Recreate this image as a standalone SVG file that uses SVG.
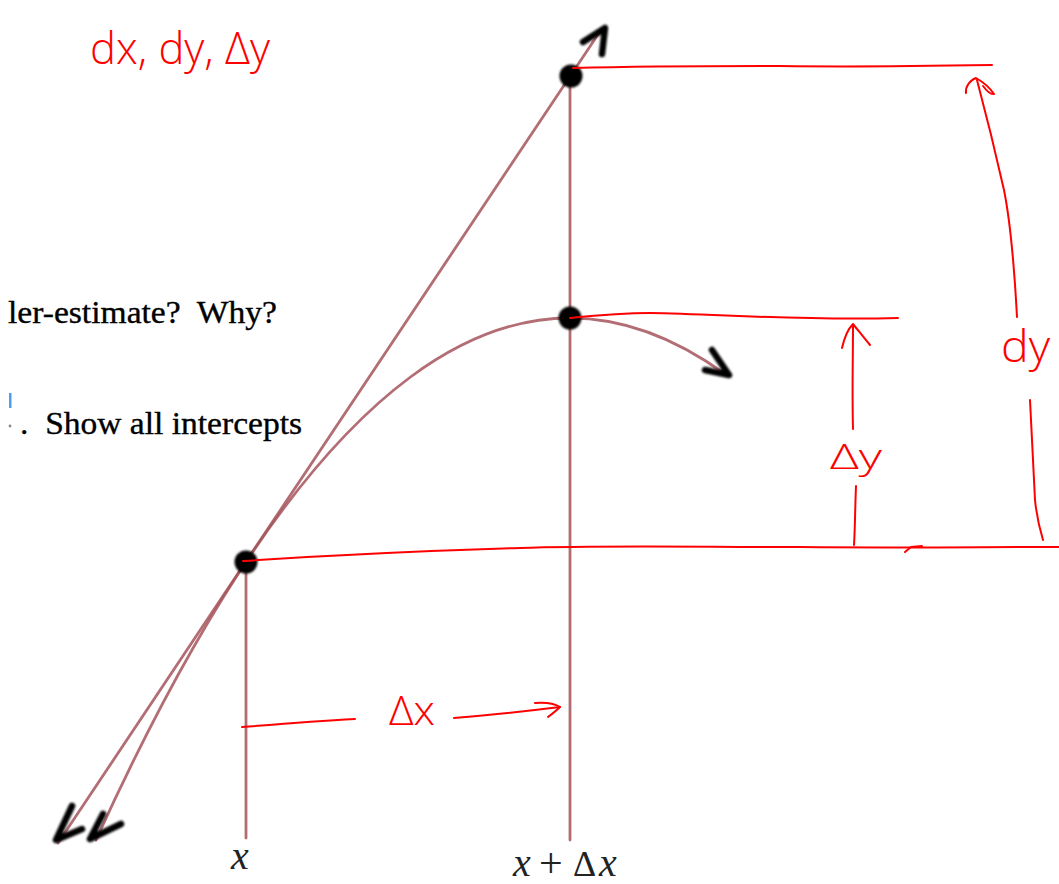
<svg xmlns="http://www.w3.org/2000/svg" width="1059" height="884" viewBox="0 0 1059 884">
<defs>
<filter id="soft" x="-20%" y="-20%" width="140%" height="140%"><feGaussianBlur stdDeviation="0.9"/></filter>
</defs>
<style>
.brown{fill:none;stroke:#a4555c;stroke-width:2.8;stroke-opacity:0.85;stroke-linecap:round}
.ink{fill:none;stroke:#000;stroke-width:6.5;stroke-linecap:round;stroke-linejoin:round}
.red{fill:none;stroke:#ff0000;stroke-width:2;stroke-linecap:round;stroke-linejoin:round}
.hand{fill:#ff0000;font-family:"Open Sans","DejaVu Sans",sans-serif;font-weight:300}
.print{fill:#000;stroke:#000;stroke-width:0.35;font-family:"Liberation Serif","Times New Roman",serif}
.math{fill:#222;font-family:"Liberation Serif","Times New Roman",serif;font-style:italic}
</style>
<rect width="1059" height="884" fill="#fff"/>

<g id="printed-text">
<text class="print" x="8" y="323" font-size="31" textLength="269" lengthAdjust="spacingAndGlyphs" xml:space="preserve">ler-estimate?  Why?</text>
<rect x="9" y="393" width="2.5" height="15" fill="#4aa0f0"/>
<circle cx="10" cy="426" r="1.4" fill="#888"/>
<text class="print" x="20" y="434" font-size="31" textLength="282" lengthAdjust="spacingAndGlyphs" xml:space="preserve">.  Show all intercepts</text>
</g>

<g id="graph">
<line class="brown" x1="246" y1="562" x2="246" y2="838"/>
<line class="brown" x1="570" y1="76" x2="570" y2="840"/>
<line class="brown" x1="601" y1="30" x2="58" y2="843"/>
<path class="brown" d="M96,840 Q410.5,147 725,374"/>
</g>

<g id="arrowheads" filter="url(#soft)">
<path class="ink" d="M583,42 L605,28 L602,54"/>
<path class="ink" d="M712,350 L729,375 L705,370"/>
<path class="ink" d="M72,806 L56,840 L82,829"/>
<path class="ink" d="M103,814 L90,839 L121,824"/>
</g>

<g id="points" filter="url(#soft)">
<circle cx="571" cy="76" r="11.5" fill="#000"/>
<circle cx="570" cy="318" r="11.5" fill="#000"/>
<circle cx="246" cy="562" r="11.5" fill="#000"/>
</g>

<g id="red-annotations">
<path class="red" d="M573,68 C650,66 720,66 780,66 C850,67 930,66 992,65"/>
<path class="red" d="M570,318 C600,315 620,313 650,313 C720,314 800,321 898,318"/>
<path class="red" d="M243,561 C320,556 420,551 520,548 C600,545 700,547 800,547 C900,548 980,547 1059,547"/>
<path class="red" d="M905,552 L911,547 L922,546"/>
<path class="red" d="M853,429 C852,390 853,360 853,325"/>
<path class="red" d="M842,348 C845,335 850,327 853,324 C858,330 864,338 870,345"/>
<path class="red" d="M856,486 C855,510 855,530 854,545"/>
<path class="red" d="M1017,317 C1015,280 1012,230 1004,190 C995,150 985,110 977,80"/>
<path class="red" d="M966,93 C965,87 970,80 976,78 C983,82 990,88 994,94 C990,95 986,90 983,86"/>
<path class="red" d="M1030,400 C1032,440 1034,480 1035,500 C1037,520 1040,530 1043,540"/>
<path class="red" d="M242,727 C280,724 320,721 355,719"/>
<path class="red" d="M454,718 C490,715 520,712 560,707"/>
<path class="red" d="M535,703 C545,702 555,704 560,707 C556,711 552,714 548,717"/>
<text class="hand" x="90" y="64" font-size="44" textLength="180" lengthAdjust="spacingAndGlyphs">dx, dy, Δy</text>
<text class="hand" x="830" y="469" font-size="34" textLength="52" lengthAdjust="spacingAndGlyphs">Δy</text>
<text class="hand" x="1001" y="362" font-size="44" textLength="49" lengthAdjust="spacingAndGlyphs">dy</text>
<text class="hand" x="389" y="725" font-size="40" textLength="46" lengthAdjust="spacingAndGlyphs">Δx</text>
</g>

<g id="axis-labels">
<text class="math" x="231" y="869" font-size="40">x</text>
<text class="math" y="876" font-size="40"><tspan x="513">x</tspan><tspan x="539" y="877" font-style="normal" font-size="42">+</tspan><tspan x="573" y="876" font-style="normal" font-size="36">Δ</tspan><tspan x="599">x</tspan></text>
</g>
</svg>
